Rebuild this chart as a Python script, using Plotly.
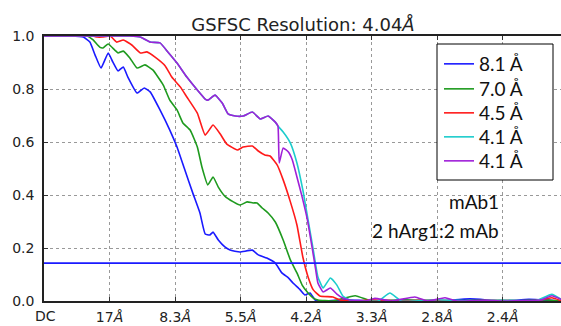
import plotly.graph_objects as go

# ---------------- data (x in tick-index units: 0 = DC, 1 = 17 Å, 2 = 8.3 Å ...) ----------------
tick_positions = [0, 1, 2, 3, 4, 5, 6, 7]
tick_labels = ["", "17<i>Å</i>", "8.3<i>Å</i>", "5.5<i>Å</i>", "4.2<i>Å</i>",
               "3.3<i>Å</i>", "2.8<i>Å</i>", "2.4<i>Å</i>"]
y_ticks = [0.0, 0.2, 0.4, 0.6, 0.8, 1.0]
y_tick_labels = ["0.0", "0.2", "0.4", "0.6", "0.8", "1.0"]

fsc_threshold = 0.143
series_names = ["8.1 Å", "7.0 Å", "4.5 Å", "4.1 Å", "4.1 Å"]

blue_x = [0, 0.40, 0.60, 0.70, 0.78, 0.87, 0.98, 1.05, 1.13, 1.21, 1.28, 1.42, 1.53, 1.62, 1.77,
          1.92, 2.03, 2.15, 2.27, 2.38, 2.46, 2.53, 2.58, 2.66, 2.76, 2.84, 2.99, 3.18, 3.27,
          3.40, 3.53, 3.63, 3.73, 3.80, 3.91, 3.98, 4.06, 4.14, 4.30, 4.60, 5.00, 5.50, 6.00,
          6.50, 7.00, 7.40, 7.90]
blue_y = [1.0, 1.0, 0.996, 0.977, 0.928, 0.879, 0.936, 0.902, 0.868, 0.883, 0.845, 0.785, 0.804,
          0.789, 0.721, 0.645, 0.581, 0.494, 0.408, 0.332, 0.253, 0.249, 0.260, 0.230, 0.204,
          0.192, 0.185, 0.192, 0.174, 0.162, 0.143, 0.106, 0.087, 0.068, 0.042, 0.023, 0.030,
          0.004, 0.0, 0.005, 0.0, 0.003, 0.0, 0.008, 0.0, 0.006, 0.0]

green_x = [0, 0.60, 0.66, 0.75, 0.85, 0.90, 0.98, 1.08, 1.13, 1.21, 1.31, 1.42, 1.54, 1.66,
           1.82, 1.92, 2.03, 2.12, 2.23, 2.34, 2.41, 2.50, 2.58, 2.66, 2.76, 2.89, 2.99, 3.10,
           3.19, 3.25, 3.33, 3.42, 3.53, 3.65, 3.76, 3.86, 3.94, 4.03, 4.11, 4.18, 4.40, 4.75,
           5.00, 5.50, 6.00, 6.60, 7.20, 7.60, 7.90]
green_y = [1.0, 1.0, 1.0, 0.985, 0.958, 0.955, 0.970, 0.947, 0.936, 0.943, 0.917, 0.879, 0.891,
           0.872, 0.815, 0.758, 0.721, 0.672, 0.645, 0.581, 0.506, 0.438, 0.468, 0.430, 0.396,
           0.374, 0.362, 0.374, 0.370, 0.370, 0.351, 0.332, 0.298, 0.230, 0.155, 0.106, 0.060,
           0.030, 0.011, 0.004, 0.0, 0.020, 0.0, 0.005, 0.0, 0.003, 0.0, 0.005, 0.0]

red_x = [0, 0.75, 0.81, 0.89, 1.01, 1.11, 1.21, 1.34, 1.47, 1.57, 1.69, 1.85, 1.95, 2.08, 2.18,
         2.34, 2.46, 2.58, 2.69, 2.79, 2.95, 3.04, 3.18, 3.27, 3.37, 3.45, 3.56, 3.65, 3.76,
         3.86, 3.95, 4.03, 4.11, 4.21, 4.41, 4.52, 4.80, 5.00, 5.40, 5.90, 6.40, 7.00, 7.50,
         7.75, 7.90]
red_y = [1.0, 1.0, 0.996, 0.996, 1.0, 0.977, 0.985, 0.966, 0.936, 0.940, 0.921, 0.887, 0.845,
         0.808, 0.770, 0.709, 0.626, 0.664, 0.630, 0.592, 0.570, 0.581, 0.585, 0.566, 0.551,
         0.547, 0.513, 0.457, 0.374, 0.287, 0.166, 0.091, 0.042, 0.019, 0.015, 0.004, 0.0,
         0.005, 0.0, 0.004, 0.0, 0.003, 0.0, 0.012, 0.0]

cyan_x = [0, 1.31, 1.47, 1.62, 1.77, 1.89, 2.03, 2.18, 2.34, 2.46, 2.50, 2.61, 2.72, 2.81, 2.92,
          3.04, 3.18, 3.30, 3.42, 3.53, 3.57, 3.65, 3.76, 3.86, 3.95, 4.03, 4.11, 4.18, 4.26,
          4.37, 4.47, 4.56, 4.67, 4.85, 5.10, 5.28, 5.45, 6.00, 6.50, 7.00, 7.50, 7.75, 7.90]
cyan_y = [1.0, 1.0, 0.996, 0.977, 0.974, 0.940, 0.898, 0.845, 0.796, 0.762, 0.758, 0.777, 0.747,
          0.706, 0.698, 0.698, 0.713, 0.687, 0.698, 0.675, 0.660, 0.638, 0.596, 0.521, 0.419,
          0.306, 0.192, 0.091, 0.049, 0.087, 0.060, 0.019, 0.004, 0.0, 0.0, 0.030, 0.0, 0.005,
          0.0, 0.004, 0.0, 0.025, 0.005]

purple_x = [0, 1.31, 1.47, 1.62, 1.77, 1.89, 2.03, 2.18, 2.34, 2.46, 2.50, 2.61, 2.72, 2.81,
            2.92, 3.04, 3.18, 3.30, 3.42, 3.53, 3.57, 3.59, 3.65, 3.73, 3.79, 3.86, 3.94, 4.02,
            4.09, 4.14, 4.18, 4.26, 4.37, 4.47, 4.56, 4.67, 4.90, 5.05, 5.30, 5.66, 5.85, 6.12,
            6.30, 6.75, 7.00, 7.60, 7.75, 7.90]
purple_y = [1.0, 1.0, 0.996, 0.977, 0.974, 0.940, 0.898, 0.845, 0.796, 0.762, 0.758, 0.777,
            0.747, 0.706, 0.698, 0.698, 0.713, 0.687, 0.698, 0.675, 0.660, 0.521, 0.577, 0.562,
            0.532, 0.468, 0.392, 0.306, 0.204, 0.128, 0.068, 0.034, 0.049, 0.026, 0.011, 0.004,
            0.0, 0.010, 0.0, 0.015, 0.0, 0.012, 0.0, 0.003, 0.0, 0.005, 0.020, 0.005]

series_x = [blue_x, green_x, red_x, cyan_x, purple_x]
series_y = [blue_y, green_y, red_y, cyan_y, purple_y]
colors = ["#1a1aff", "#1e9a1e", "#ff1a1a", "#1ccccc", "#a020d8"]

# ---------------- layout geometry (pixels) ----------------
W, H = 561, 326
L, R, T, B = 44, 0, 36, 25
PW, PH = W - L - R, H - T - B


def px(xp):
    return (xp - L) / PW


def py(yp):
    return (H - B - yp) / PH


legend_rows = [64, 89, 113, 137, 161]
legend_font = dict(family="Lato", size=19, color="#111111")
text_font = dict(family="Lato", size=19, color="#111111")
tick_font = dict(family="DejaVu Sans", size=14, color="#222222")

# ---------------- figure ----------------
fig = go.Figure()
for i, (xs, ys) in enumerate(zip(series_x, series_y)):
    fig.add_trace(go.Scatter(
        x=xs, y=ys, mode="lines", name=series_names[i],
        legend="legend" if i == 0 else f"legend{i + 1}",
        line=dict(color=colors[i], width=1.6, shape="spline", smoothing=0.4),
    ))

# FSC threshold line
fig.add_shape(type="line", xref="paper", x0=0, x1=1, yref="y", y0=fsc_threshold,
              y1=fsc_threshold, line=dict(color="#1a1aff", width=1.6), layer="above")

# legend frame (white box)
fig.add_shape(type="rect", xref="paper", yref="paper",
              x0=px(437), x1=px(553), y0=py(180), y1=py(44),
              line=dict(color="black", width=1), fillcolor="white", layer="above")

legends = {}
for i, row in enumerate(legend_rows):
    key = "legend" if i == 0 else f"legend{i + 1}"
    legends[key] = dict(x=px(439), xanchor="left", y=py(row), yanchor="middle",
                        bgcolor="rgba(0,0,0,0)", borderwidth=0, font=legend_font,
                        itemwidth=30)

fig.update_layout(
    width=W, height=H,
    margin=dict(l=L, r=R, t=T, b=B),
    paper_bgcolor="white", plot_bgcolor="white",
    title=dict(text="GSFSC Resolution: 4.04<i>Å</i>", x=303 / W, xanchor="center",
               y=1 - 25 / H, yanchor="middle",
               font=dict(family="DejaVu Sans", size=18, color="#222222")),
    showlegend=True,
    xaxis=dict(range=[0, 7.89], tickmode="array", tickvals=tick_positions,
               ticktext=tick_labels, ticks="inside", ticklen=4, tickcolor="#333",
               showline=True, linecolor="#222", linewidth=1.5, mirror="ticks",
               showgrid=True, gridcolor="#999999", griddash="dot", gridwidth=1,
               zeroline=False, tickfont=tick_font, ticklabelstandoff=2),
    yaxis=dict(range=[0, 1], tickmode="array", tickvals=y_ticks, ticktext=y_tick_labels,
               ticks="inside", ticklen=4, tickcolor="#333",
               showline=True, linecolor="#222", linewidth=1.5,
               showgrid=True, gridcolor="#999999", griddash="dot", gridwidth=1,
               zeroline=False, tickfont=tick_font, ticklabelstandoff=5),
    annotations=[
        dict(text="DC", xref="paper", yref="paper", x=px(45), y=py(316),
             xanchor="center", yanchor="middle", showarrow=False, font=tick_font),
        dict(text="mAb1", xref="paper", yref="paper", x=px(501), y=py(201),
             xanchor="right", yanchor="middle", showarrow=False, font=text_font),
        dict(text="2 hArg1:2 mAb", xref="paper", yref="paper", x=px(501), y=py(230),
             xanchor="right", yanchor="middle", showarrow=False, font=text_font),
    ],
    **legends,
)

fig.write_html("out.html")
